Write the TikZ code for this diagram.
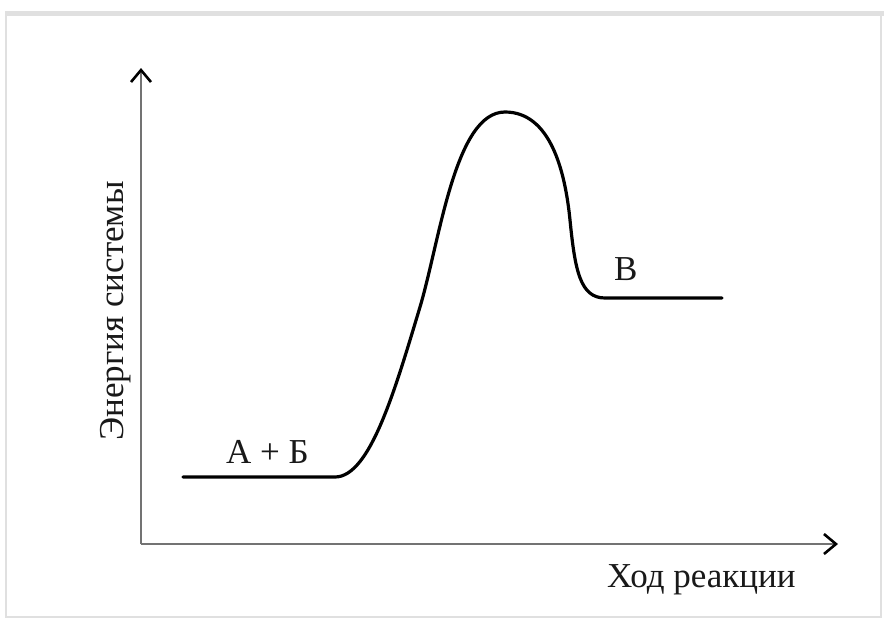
\documentclass[tikz,border=0pt]{standalone}
\usepackage{fontspec}
\setmainfont{Liberation Serif}
\usetikzlibrary{arrows.meta}
\tikzset{
  axisline/.style={draw=black!55, line width=2.6pt,
    -{Straight Barb[length=12pt,width=20pt,line width=2.6pt,color=black]}},
  curveline/.style={draw=black, line width=3.2pt, line cap=round, line join=round},
  lbl/.style={inner sep=0pt, font=\fontsize{35}{38}\selectfont, text=black!90},
  framebox/.style={draw=black!12, line width=2.5pt}
}
\begin{document}
\begin{tikzpicture}[x=1pt,y=-1pt]
\useasboundingbox (0,0) rectangle (884,619);
\fill[white] (0,0) rectangle (884,619);
% frame
\draw[framebox] (6,13) rectangle (881,617);
\draw[draw=black!12, line width=5pt] (5,13) -- (884,13);
% axes
\coordinate (O) at (141,544);
\coordinate (ytip) at (141,68);
\coordinate (xtip) at (838,544);
\draw[axisline] (O) -- (ytip);
\draw[axisline] (O) -- (xtip);
% curve
\coordinate (s) at (183,477);
\coordinate (r) at (335,477);
\coordinate (m1) at (420,307);
\coordinate (pk) at (505,112);
\coordinate (m2) at (570,220);
\coordinate (b) at (605,298);
\coordinate (e) at (722,298);
\draw[curveline] (s) -- (r)
  .. controls (370,477) and (395,390) .. (m1)
  .. controls (440,240) and (455,112) .. (pk)
  .. controls (550,112) and (565,170) .. (m2)
  .. controls (575,270) and (580,298) .. (b)
  -- (e);
% labels
\node[lbl, anchor=base west] (ab) at (226,463) {А + Б};
\node[lbl, anchor=base west] (v) at (614,280) {В};
\node[lbl, anchor=base west] (xl) at (607,587) {Ход реакции};
\node[lbl, anchor=base, rotate=90] (yl) at (123,311) {Энергия системы};
\end{tikzpicture}
\end{document}
